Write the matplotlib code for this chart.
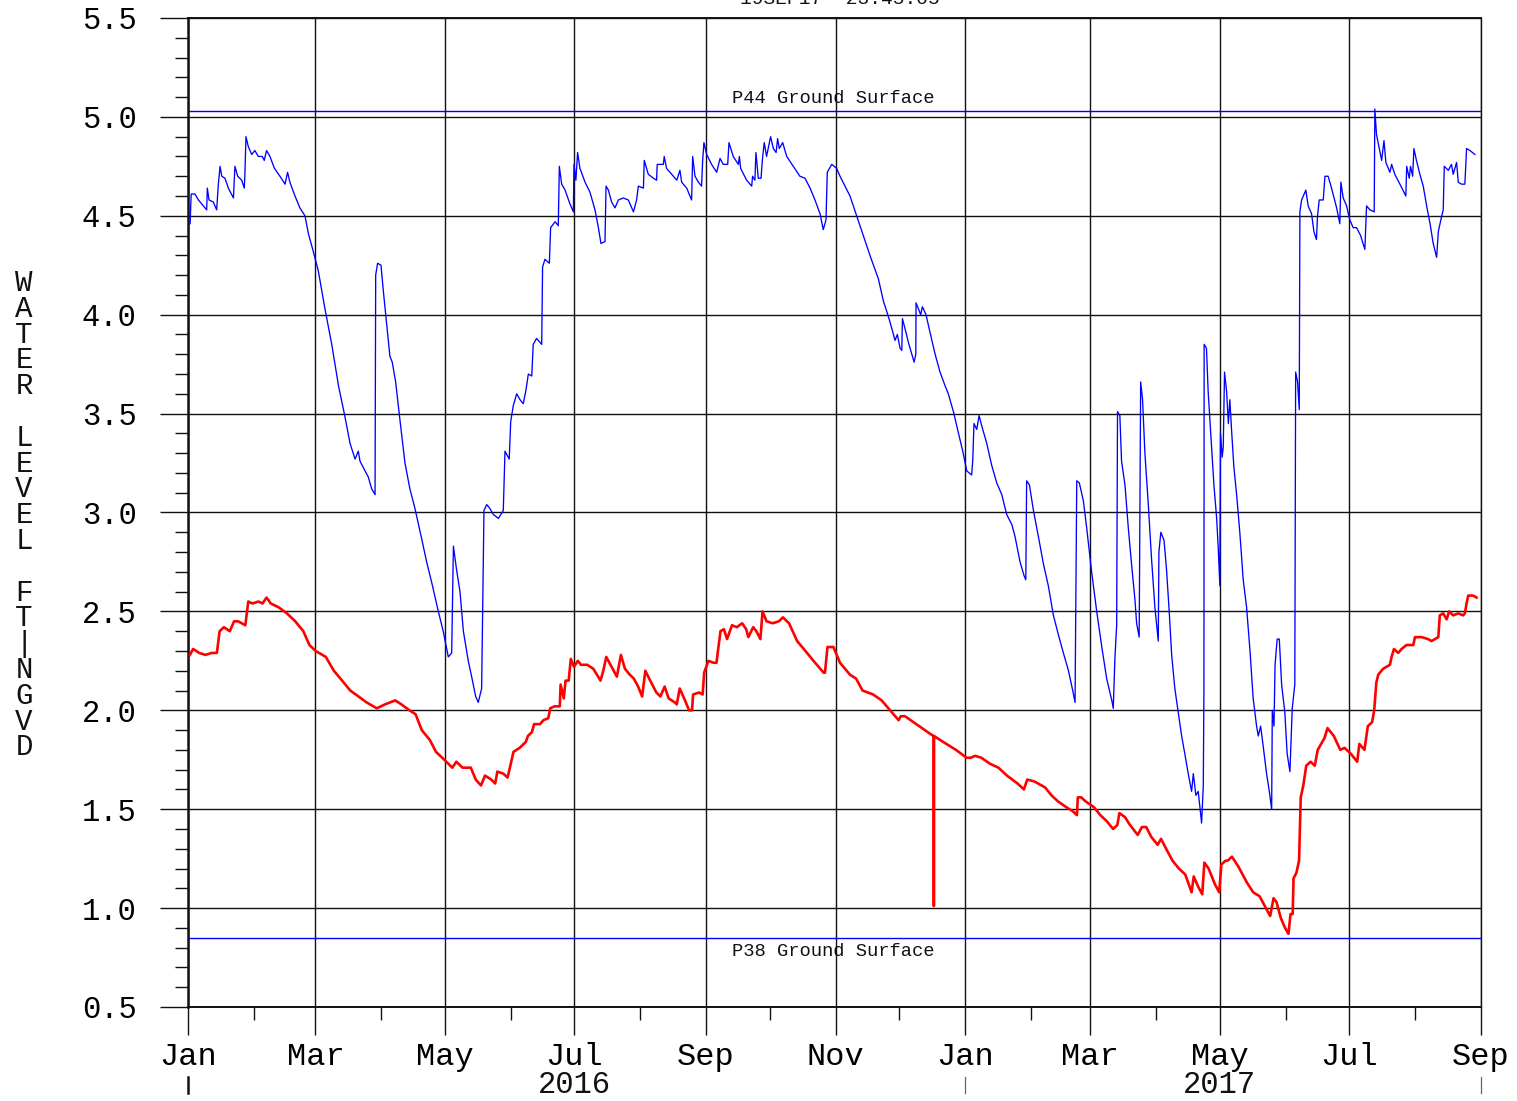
import numpy as np
import matplotlib
matplotlib.use("Agg")
import matplotlib.pyplot as plt
import matplotlib.dates as mdates
from matplotlib.lines import Line2D
from matplotlib.ticker import MultipleLocator, FormatStrFormatter

plt.rcParams['font.family'] = ['Liberation Mono', 'DejaVu Sans Mono']

START = np.datetime64('2016-01-01T00:00')

# Well P44 water level (days since 2016-01-01, ft NGVD)
p44_day = [1.0, 1.5, 3.3, 4.9, 7.2, 8.8, 9.1, 9.9, 11.9, 13.5, 14.3, 15.1, 15.9, 17.4, 19.0,
           21.4, 22.1, 23.4, 25.3, 26.5, 26.8, 27.3, 28.4, 30.0, 31.5, 33.1, 35.0, 35.9, 37.0,
           38.6, 40.7, 43.3, 45.7, 46.9, 48.0, 50.4, 52.7, 55.1, 56.7, 59.0, 61.4, 64.5, 67.7,
           70.9, 74.0, 76.3, 78.7, 80.2, 81.0, 83.4, 84.9, 86.5, 88.1, 88.4, 89.3, 90.9, 92.0,
           93.6, 95.1, 96.2, 97.8, 99.8, 102.2, 104.5, 106.9, 110.0, 112.4, 114.7, 117.9, 120.2,
           122.6, 124.2, 125.0, 126.5, 128.1, 129.7, 132.0, 133.6, 135.5, 136.7, 138.3, 139.4,
           140.7, 142.2, 143.8, 146.2, 148.5, 149.3, 151.3, 152.0, 153.2, 154.8, 156.4, 157.9,
           159.2, 160.3, 161.9, 162.6, 164.2, 166.6, 167.0, 168.1, 170.2, 170.8, 172.9, 174.4,
           174.9, 176.0, 177.6, 179.9, 181.5, 181.8, 182.7, 183.5, 184.6, 187.0, 189.3, 191.7,
           193.3, 194.5, 196.4, 196.9, 198.0, 199.5, 201.1, 202.7, 205.0, 207.4, 209.8, 211.3,
           212.1, 214.5, 214.9, 216.8, 219.2, 220.7, 221.0, 223.9, 224.3, 225.4, 227.8, 230.2,
           231.7, 232.5, 234.9, 237.2, 237.7, 238.8, 240.4, 241.9, 242.4, 243.0, 244.3, 246.6,
           249.0, 250.6, 252.1, 254.2, 254.8, 256.8, 259.2, 259.7, 260.3, 263.1, 265.5, 265.9,
           267.0, 267.5, 268.6, 269.9, 270.5, 271.4, 272.5, 274.4, 275.7, 277.0, 277.7, 278.5,
           280.1, 282.0, 285.1, 288.2, 290.6, 293.0, 295.3, 297.7, 299.2, 300.5, 301.1, 303.2,
           305.5, 307.1, 311.8, 316.5, 321.2, 325.2, 327.5, 329.9, 331.5, 333.0, 334.1, 335.4,
           336.2, 336.5, 337.7, 339.3, 340.9, 342.0, 342.8, 342.9, 344.0, 345.1, 345.9, 347.6,
           349.5, 351.9, 354.2, 356.6, 358.1, 360.5, 362.9, 364.9, 366.8, 369.1, 369.6, 370.2,
           371.5, 372.6, 373.8, 376.2, 378.5, 380.9, 383.3, 385.6, 388.0, 389.5, 391.9, 393.8,
           394.6, 395.0, 396.3, 398.2, 400.5, 402.9, 405.2, 407.6, 410.0, 412.3, 414.7, 416.7,
           417.8, 418.6, 419.8, 421.7, 423.3, 425.6, 428.0, 430.4, 432.7, 435.1, 435.8, 436.6,
           437.4, 437.8, 438.9, 439.7, 441.3, 442.9, 444.4, 446.0, 446.8, 448.0, 448.7, 449.6,
           450.7, 452.3, 453.8, 455.4, 457.0, 457.3, 458.2, 459.7, 460.9, 462.2, 463.3, 464.8,
           466.4, 468.0, 469.5, 471.1, 472.7, 473.5, 474.7, 475.8, 476.6, 477.4, 478.2, 478.5,
           478.6, 479.7, 480.5, 481.6, 483.2, 484.5, 485.2, 486.0, 486.3, 487.1, 487.6, 488.2,
           489.2, 490.0, 490.7, 491.5, 492.6, 493.9, 495.4, 497.0, 498.6, 500.2, 501.7, 503.3,
           504.1, 505.2, 506.4, 508.0, 509.3, 510.4, 510.7, 511.5, 512.0, 513.0, 514.0, 515.1,
           516.6, 517.7, 519.0, 520.1, 521.3, 521.7, 522.6, 523.4, 523.7, 524.5, 526.5, 527.6,
           529.2, 530.3, 531.5, 532.0, 532.8, 534.7, 535.5, 537.0, 538.6, 541.0, 542.5, 543.0,
           544.1, 545.7, 547.2, 548.8, 550.4, 552.3, 554.3, 555.1, 556.7, 558.7, 559.0, 559.8,
           561.1, 562.2, 563.3, 564.2, 566.1, 566.9, 568.4, 570.8, 573.6, 574.0, 575.2, 575.8,
           576.8, 577.4, 578.6, 580.2, 581.8, 583.4, 585.0, 586.5, 588.1, 588.9, 590.1, 591.2,
           591.7, 593.6, 595.1, 595.9, 597.5, 598.3, 599.8, 601.4, 602.2, 603.8, 606.1]
p44_ft = [4.46, 4.61, 4.61, 4.58, 4.55, 4.53, 4.64, 4.58, 4.57, 4.53, 4.66, 4.75, 4.70, 4.69, 4.64,
          4.59, 4.75, 4.70, 4.68, 4.64, 4.71, 4.90, 4.85, 4.81, 4.83, 4.80, 4.80, 4.78, 4.83,
          4.80, 4.74, 4.70, 4.66, 4.72, 4.67, 4.60, 4.54, 4.50, 4.41, 4.32, 4.22, 4.03, 3.85,
          3.64, 3.48, 3.35, 3.27, 3.31, 3.26, 3.21, 3.18, 3.12, 3.09, 4.20, 4.26, 4.25, 4.12,
          3.95, 3.79, 3.76, 3.66, 3.47, 3.25, 3.12, 3.02, 2.87, 2.75, 2.65, 2.50, 2.40,
          2.27, 2.29, 2.83, 2.71, 2.60, 2.40, 2.25, 2.17, 2.07, 2.04, 2.11, 3.01,
          3.04, 3.02, 2.99, 2.97, 3.01, 3.31, 3.27, 3.46, 3.54, 3.60, 3.57, 3.55,
          3.62, 3.70, 3.69, 3.85, 3.88, 3.85, 4.24, 4.28, 4.26, 4.44, 4.47, 4.45,
          4.75, 4.66, 4.63, 4.56, 4.52, 4.76, 4.68, 4.82, 4.74, 4.67, 4.62, 4.53,
          4.44, 4.36, 4.37, 4.65, 4.63, 4.57, 4.54, 4.58, 4.59, 4.58, 4.52, 4.58,
          4.65, 4.64, 4.78, 4.71, 4.69, 4.68, 4.76, 4.76, 4.80, 4.74, 4.71, 4.68,
          4.73, 4.67, 4.64, 4.58, 4.80, 4.70, 4.67, 4.65, 4.78, 4.87, 4.81, 4.76,
          4.72, 4.79, 4.76, 4.76, 4.87, 4.80, 4.76, 4.80, 4.74, 4.68, 4.65, 4.70,
          4.68, 4.82, 4.69, 4.69, 4.78, 4.87, 4.80, 4.90, 4.84, 4.82, 4.89, 4.84,
          4.87, 4.80, 4.75, 4.70, 4.69, 4.64, 4.58, 4.51, 4.43, 4.48, 4.72, 4.76,
          4.74, 4.70, 4.60, 4.45, 4.30, 4.18, 4.07, 3.99, 3.93, 3.87, 3.90, 3.83,
          3.82, 3.98, 3.93, 3.86, 3.80, 3.76, 3.80, 4.06, 4.03, 4.00, 4.04, 4.00,
          3.91, 3.80, 3.71, 3.64, 3.60, 3.51, 3.40, 3.31, 3.21, 3.19, 3.26, 3.45,
          3.42, 3.49, 3.44, 3.35, 3.24, 3.15, 3.09, 2.99, 2.94, 2.88, 2.75, 2.68,
          2.66, 3.16, 3.14, 3.01, 2.88, 2.74, 2.63, 2.48, 2.38, 2.29, 2.20, 2.10,
          2.04, 3.16, 3.15, 3.06, 2.92, 2.70, 2.50, 2.32, 2.16, 2.05, 2.01, 2.27,
          2.43, 3.51, 3.49, 3.26, 3.14, 2.92, 2.74, 2.56, 2.44, 2.37, 3.66, 3.57,
          3.30, 3.04, 2.77, 2.52, 2.35, 2.80, 2.90, 2.86, 2.71, 2.49, 2.28, 2.11,
          1.99, 1.87, 1.78, 1.68, 1.59, 1.68, 1.57, 1.59, 1.51, 1.43, 1.62, 2.11,
          3.85, 3.83, 3.61, 3.42, 3.14, 2.97, 2.83, 2.63, 3.40, 3.28, 3.33, 3.71,
          3.61, 3.45, 3.57, 3.42, 3.23, 3.09, 2.90, 2.66, 2.52, 2.30, 2.06, 1.92,
          1.87, 1.92, 1.82, 1.68, 1.59, 1.50, 2.00, 1.92, 2.23, 2.36, 2.36, 2.13,
          1.99, 1.78, 1.69, 2.01, 2.13, 3.71, 3.66, 3.52, 4.52, 4.58, 4.63, 4.55,
          4.51, 4.42, 4.38, 4.50, 4.58, 4.58, 4.70, 4.70, 4.64, 4.54, 4.46, 4.67,
          4.59, 4.55, 4.48, 4.44, 4.44, 4.40, 4.33, 4.55, 4.53, 4.52, 5.04, 4.91,
          4.84, 4.78, 4.88, 4.77, 4.72, 4.76, 4.71, 4.66, 4.60, 4.75, 4.69, 4.75,
          4.70, 4.84, 4.78, 4.71, 4.65, 4.55, 4.46, 4.36, 4.29, 4.42, 4.48, 4.53,
          4.75, 4.73, 4.76, 4.71, 4.77, 4.67, 4.66, 4.66, 4.84, 4.83, 4.81]

# Well P38 water level (days since 2016-01-01, ft NGVD)
p38_day = [0.9, 2.4, 5.3, 8.2, 11.1, 13.6, 14.9, 16.9, 19.7, 21.7, 23.6, 27.0, 28.4, 30.3, 33.2,
           35.1, 37.0, 39.0, 42.8, 46.6, 50.5, 54.3, 57.2, 60.1, 64.9, 68.7, 72.6, 76.4, 80.3,
           84.1, 88.9, 92.8, 97.6, 100.5, 104.3, 107.2, 110.1, 113.9, 116.8, 120.7, 124.5, 126.4,
           129.3, 133.2, 135.5, 138.0, 139.9, 142.8, 144.7, 145.7, 148.5, 150.5, 151.4, 153.3,
           156.2, 159.1, 160.1, 162.0, 163.0, 165.8, 167.4, 169.7, 170.6, 172.6, 175.1, 175.5,
           177.0, 177.8, 179.3, 180.3, 181.8, 183.6, 185.1, 188.0, 190.9, 194.3, 195.6, 197.0,
           199.5, 202.0, 203.9, 205.8, 208.1, 210.0, 212.0, 213.9, 215.4, 217.7, 220.6, 222.5,
           224.5, 226.4, 229.3, 230.2, 231.6, 234.1, 236.0, 237.4, 237.9, 240.8, 242.4, 243.1,
           245.1, 247.6, 248.9, 250.8, 252.4, 253.9, 256.2, 258.5, 261.0, 262.9, 263.9, 266.2,
           267.7, 269.6, 270.6, 272.5, 275.4, 278.3, 280.2, 283.1, 286.9, 290.8, 294.6, 299.4,
           300.0, 301.2, 304.0, 307.1, 311.8, 314.7, 317.7, 322.7, 326.7, 330.7, 334.7, 335.7,
           337.7, 341.7, 345.7, 349.7, 351.2, 351.3, 351.4, 355.7, 361.7, 366.7, 368.7, 370.7,
           373.7, 377.7, 381.7, 385.7, 390.7, 393.7, 395.3, 398.7, 403.7, 406.7, 409.7, 413.7,
           416.7, 418.7, 419.1, 420.7, 422.7, 426.7, 429.7, 432.7, 435.7, 437.7, 438.7, 441.3,
           443.7, 447.3, 449.3, 451.3, 453.7, 456.7, 458.3, 460.7, 463.7, 466.7, 469.7, 472.7,
           473.7, 475.7, 477.7, 478.7, 480.7, 483.7, 485.7, 486.7, 488.7, 489.7, 491.7, 494.7,
           498.7, 501.7, 504.7, 506.7, 509.7, 511.3, 512.7, 514.7, 516.7, 518.3, 519.3, 520.3,
           520.7, 522.1, 523.3, 524.1, 525.3, 526.7, 528.7, 530.7, 532.1, 533.7, 535.3, 536.7,
           539.7, 542.7, 544.7, 547.7, 550.7, 551.7, 554.1, 555.7, 557.7, 558.7, 559.7, 560.6,
           562.9, 566.1, 566.9, 568.0, 570.0, 571.6, 573.9, 577.1, 577.9, 581.0, 584.1, 585.7,
           588.9, 589.6, 591.2, 592.8, 594.0, 595.9, 598.3, 600.6, 601.4, 602.2, 603.0, 605.3,
           606.9]
p38_ft = [2.28, 2.31, 2.29, 2.28, 2.29, 2.29, 2.40, 2.42, 2.40, 2.45, 2.45, 2.43, 2.55, 2.54, 2.55,
          2.54, 2.57, 2.54, 2.52, 2.49, 2.45, 2.40, 2.33, 2.30, 2.27, 2.20, 2.15, 2.10, 2.07,
          2.04, 2.01, 2.03, 2.05, 2.03, 2.00, 1.98, 1.90, 1.85, 1.79, 1.75, 1.71, 1.74,
          1.71, 1.71, 1.65, 1.62, 1.67, 1.65, 1.63, 1.69, 1.68, 1.66, 1.70, 1.79,
          1.81, 1.84, 1.87, 1.89, 1.93, 1.93, 1.95, 1.96, 2.01, 2.02, 2.02, 2.13,
          2.06, 2.15, 2.15, 2.26, 2.22, 2.25, 2.23, 2.23, 2.21, 2.15, 2.20, 2.27,
          2.22, 2.17, 2.28, 2.21, 2.18, 2.16, 2.12, 2.07, 2.20, 2.15, 2.09, 2.07,
          2.12, 2.06, 2.04, 2.03, 2.11, 2.05, 2.00, 2.00, 2.08, 2.09, 2.08, 2.19,
          2.25, 2.24, 2.24, 2.40, 2.41, 2.36, 2.43, 2.42, 2.44, 2.41, 2.37, 2.42,
          2.40, 2.36, 2.50, 2.45, 2.44, 2.45, 2.47, 2.44, 2.35, 2.30, 2.25, 2.19,
          2.19, 2.32, 2.32, 2.24, 2.18, 2.16, 2.10, 2.08, 2.05, 2.00, 1.95, 1.97,
          1.97, 1.94, 1.91, 1.88, 1.87, 1.01, 1.87, 1.84, 1.80, 1.76, 1.76, 1.77,
          1.76, 1.73, 1.71, 1.67, 1.63, 1.60, 1.65, 1.64, 1.61, 1.57, 1.54, 1.51,
          1.49, 1.47, 1.56, 1.56, 1.54, 1.51, 1.47, 1.44, 1.40, 1.42, 1.48, 1.46,
          1.42, 1.37, 1.41, 1.41, 1.36, 1.32, 1.35, 1.30, 1.24, 1.20, 1.17, 1.08,
          1.16, 1.11, 1.07, 1.23, 1.20, 1.12, 1.08, 1.22, 1.24, 1.24, 1.26, 1.21,
          1.13, 1.08, 1.06, 1.02, 0.96, 1.05, 1.03, 0.95, 0.90, 0.87, 0.97, 0.97,
          1.15, 1.18, 1.24, 1.56, 1.62, 1.72, 1.74, 1.72, 1.80, 1.83, 1.86, 1.91,
          1.87, 1.80, 1.81, 1.78, 1.74, 1.83, 1.80, 1.92, 1.94, 2.00, 2.14, 2.18,
          2.21, 2.23, 2.27, 2.31, 2.29, 2.31, 2.33, 2.33, 2.37, 2.37, 2.36, 2.35,
          2.37, 2.48, 2.49, 2.46, 2.50, 2.48, 2.49, 2.48, 2.49, 2.54, 2.58, 2.58,
          2.57]

p44_ground = 5.03
p38_ground = 0.85

year_labels = [('2016', '2016-07-01'), ('2017', '2017-05-01')]
year_marks = ['2016-01-01', '2017-01-01', '2017-09-01']
y_label = "WATER LEVEL FT|NGVD"
stamp = "19SEP17  23:45:05"


def to_dates(days):
    minutes = np.round(np.asarray(days, dtype=float) * 1440).astype('int64')
    return START + minutes.astype('timedelta64[m]')


W, H, DPI = 1517, 1101, 100
fig = plt.figure(figsize=(W / DPI, H / DPI), dpi=DPI)
ax = fig.add_axes([188 / W, 1 - 1007 / H, (1481 - 188) / W, (1007 - 18) / H])

ink = '#111111'

ax.plot(to_dates(p44_day), p44_ft, color='#0000ff', lw=0.95, zorder=3)
ax.plot(to_dates(p38_day), p38_ft, color='#ff0000', lw=1.9, zorder=3)

ax.axhline(p44_ground, color='#0000ff', lw=1.0, zorder=2)
ax.axhline(p38_ground, color='#0000ff', lw=1.0, zorder=2)
ax.annotate('P44 Ground Surface', xy=(0.5, p44_ground), xycoords=('axes fraction', 'data'),
            xytext=(-1, 2.5), textcoords='offset points', ha='center', va='bottom',
            fontsize=13.5, color=ink)
ax.annotate('P38 Ground Surface', xy=(0.5, p38_ground), xycoords=('axes fraction', 'data'),
            xytext=(-1, -4), textcoords='offset points', ha='center', va='top',
            fontsize=13.5, color=ink)

ax.set_xlim(np.datetime64('2016-01-01'), np.datetime64('2017-09-01'))
ax.set_ylim(0.5, 5.5)

ax.xaxis.set_major_locator(mdates.MonthLocator(bymonth=[1, 3, 5, 7, 9, 11]))
ax.xaxis.set_minor_locator(mdates.MonthLocator(bymonth=[2, 4, 6, 8, 10, 12]))
ax.xaxis.set_major_formatter(mdates.DateFormatter('%b'))
ax.yaxis.set_major_locator(MultipleLocator(0.5))
ax.yaxis.set_minor_locator(MultipleLocator(0.1))
ax.yaxis.set_major_formatter(FormatStrFormatter('%.1f'))

ax.tick_params(axis='both', which='both', direction='out', color=ink, width=1.0)
ax.tick_params(axis='x', which='major', length=20, pad=5, labelsize=23)
ax.tick_params(axis='x', which='minor', length=9.5)
ax.tick_params(axis='y', which='major', length=20, pad=17, labelsize=22)
ax.tick_params(axis='y', which='minor', length=9.5)

ax.grid(which='major', color=ink, lw=1.0, zorder=1)
for side, lw in (('left', 1.8), ('bottom', 1.4), ('top', 1.4), ('right', 1.0)):
    ax.spines[side].set_linewidth(lw)
    ax.spines[side].set_color(ink)

# year captions sit on a baseline just above the lower edge
for text, when in year_labels:
    ax.text(np.datetime64(when), -(1093 - 1007) / 989, text, transform=ax.get_xaxis_transform(),
            ha='center', va='baseline', fontsize=22, color=ink)
for i, when in enumerate(year_marks):
    ax.add_line(Line2D([np.datetime64(when)] * 2, [-0.071, -0.087],
                       transform=ax.get_xaxis_transform(), clip_on=False,
                       color=ink if i == 0 else '#666666', lw=1.8 if i == 0 else 0.9))

# stacked vertical axis title
for i, ch in enumerate(y_label):
    if ch != ' ':
        fig.text(24 / W, 1 - (283 + 25.8 * i) / H, ch, ha='center', va='center',
                 fontsize=21, color=ink)

fig.text(840 / W, 1 - 4 / H, stamp, ha='center', va='baseline', fontsize=14, color=ink)

fig.savefig('out.png', dpi=DPI)
